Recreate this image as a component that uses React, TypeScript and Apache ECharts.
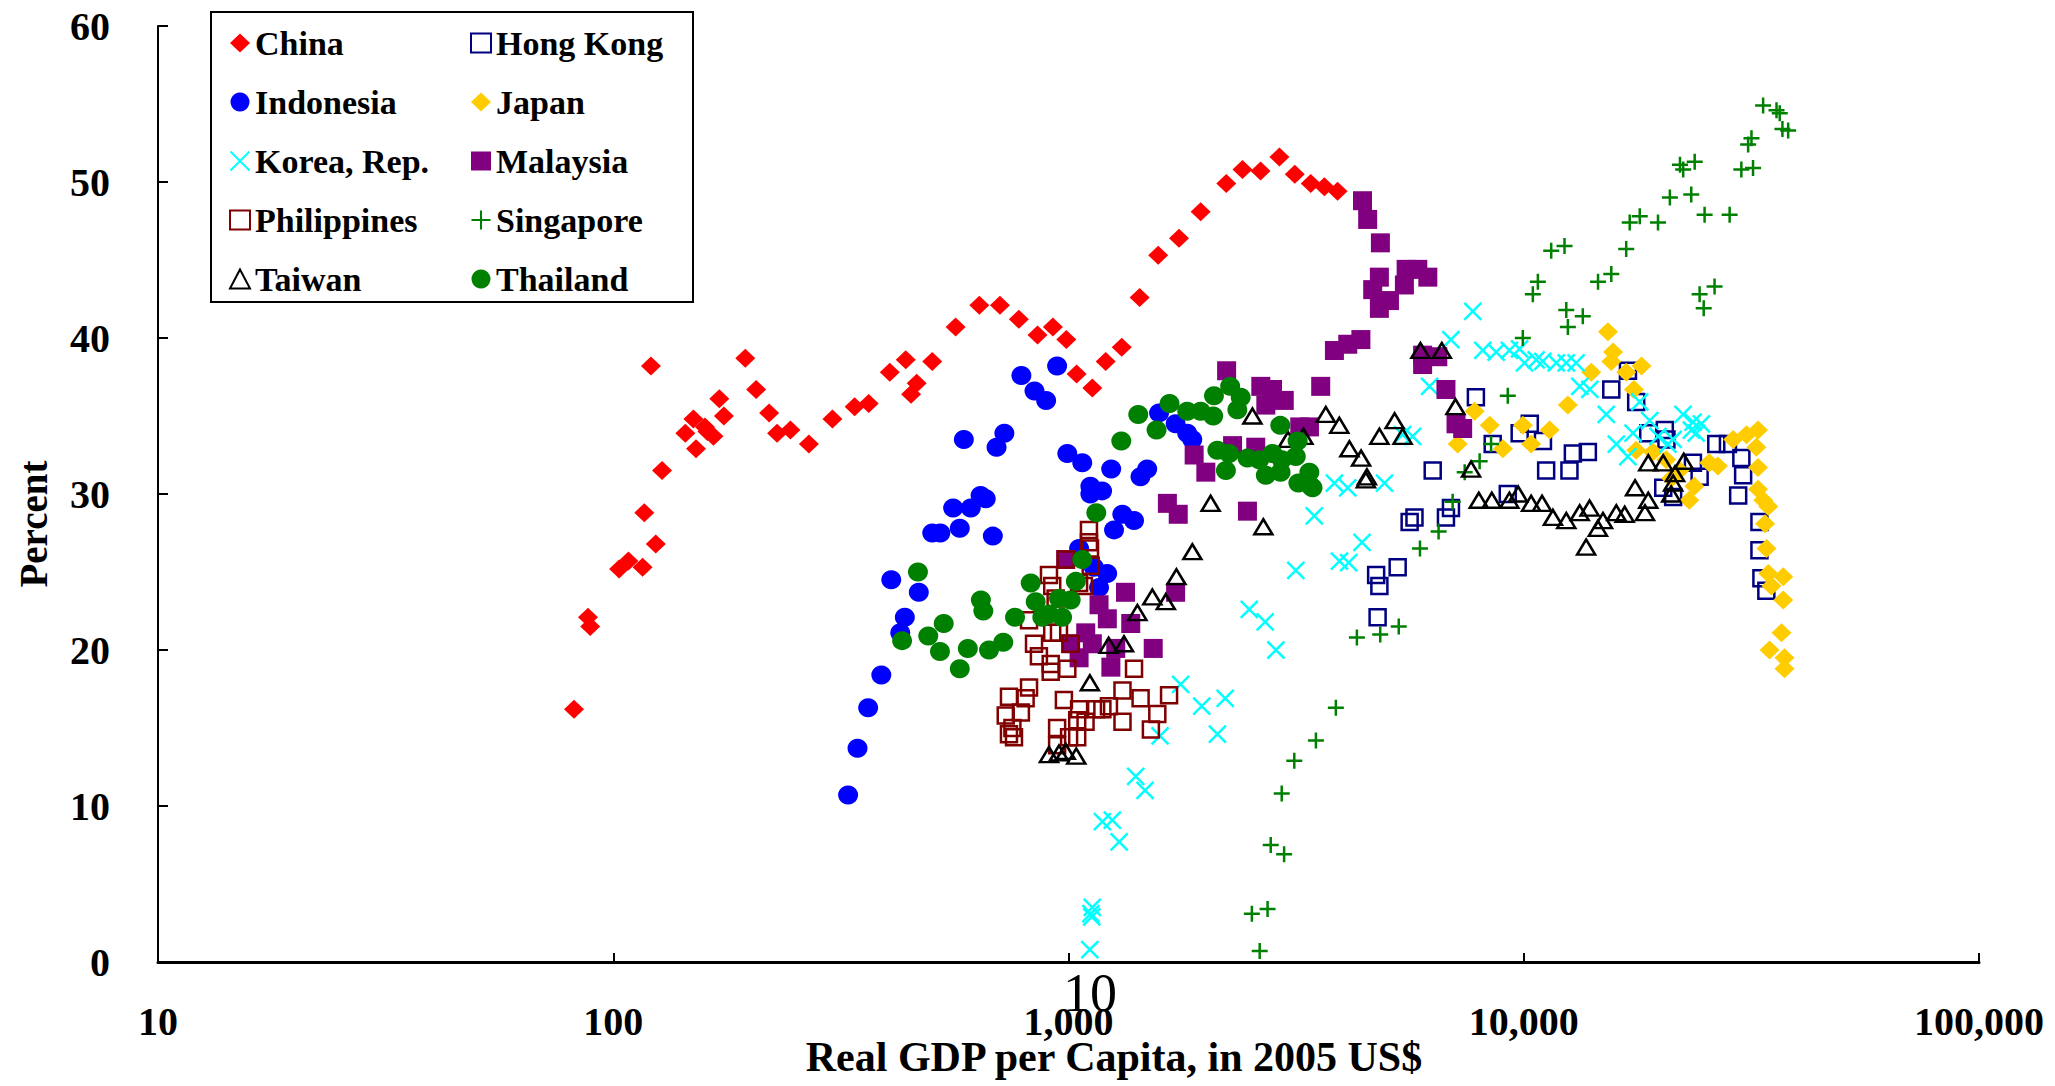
import React, { useEffect, useRef } from "react";
import * as echarts from "echarts";

// ---- Data (GDP per capita in 2005 US$, percent) ----
const china = [[82,16.2],[88,22.1],[89,21.5],[103,25.2],[108,25.7],[116,25.3],[124,26.8],[117,28.8],[128,31.5],[121,38.2],[144,33.9],[150,34.8],[152,32.9],[159,34.3],[161,34.0],[166,33.7],[171,36.1],[175,35.0],[195,38.7],[206,36.7],[220,35.2],[229,33.9],[245,34.1],[269,33.2],[303,34.8],[339,35.6],[364,35.8],[405,37.8],[439,38.6],[451,36.4],[464,37.1],[502,38.5],[565,40.7],[637,42.1],[707,42.1],[778,41.2],[855,40.2],[924,40.7],[989,39.9],[1042,37.7],[1128,36.8],[1207,38.5],[1309,39.4],[1433,42.6],[1574,45.3],[1749,46.4],[1951,48.1],[2221,49.9],[2411,50.8],[2642,50.7],[2906,51.6],[3141,50.5],[3405,49.9],[3648,49.7],[3900,49.4]];

const hongKong = [[4775,22.1],[4740,24.8],[4818,24.1],[5285,25.3],[5754,28.5],[5615,28.2],[6310,31.5],[6747,28.5],[6920,29.1],[7850,36.2],[9224,30.0],[8547,33.2],[9796,33.9],[10310,34.5],[11020,33.4],[11200,31.5],[12600,31.5],[12820,32.6],[13830,32.7],[15570,36.7],[16940,37.9],[17660,35.9],[18770,33.9],[20410,34.1],[20580,33.5],[20250,30.4],[21290,29.8],[24340,31.1],[23530,32.0],[26480,33.2],[28090,33.2],[30060,32.3],[30330,31.2],[29580,29.9],[32940,28.2],[32940,26.4],[33270,24.6],[34110,23.8]];

const indonesia = [[328,10.7],[344,13.7],[363,16.3],[388,18.4],[427,21.1],[437,22.1],[408,24.5],[469,23.7],[502,27.5],[523,27.5],[558,29.1],[577,27.8],[610,29.1],[641,29.9],[658,29.7],[682,27.3],[589,33.5],[695,33.0],[723,33.9],[788,37.6],[842,36.6],[893,36.0],[944,38.2],[994,32.6],[1072,32.0],[1117,30.5],[1185,30.2],[1117,30.0],[1241,31.6],[1439,31.1],[1489,31.6],[1313,28.7],[1393,28.3],[1259,27.7],[1055,26.5],[1137,25.3],[1216,24.9],[1167,24.0],[1581,35.2],[1719,34.5],[1823,33.9],[1870,33.5]];

const japan = [[7160,33.2],[7800,35.3],[8420,34.4],[9000,32.9],[9957,34.4],[10380,33.2],[11400,34.1],[12500,35.7],[14070,37.8],[15310,40.4],[15710,39.1],[15570,38.5],[16790,37.8],[18140,38.2],[17460,36.7],[17660,32.8],[19220,32.7],[20560,32.2],[22000,31.5],[21080,31.0],[23700,30.5],[23100,29.6],[25560,32.0],[26700,31.8],[28840,33.5],[30860,33.8],[32710,34.1],[32440,33.0],[32710,31.7],[32710,30.3],[33580,29.6],[34450,29.2],[33900,28.1],[34140,26.5],[34450,24.9],[37150,24.7],[35000,24.1],[37150,23.2],[36830,21.1],[34670,20.0],[37390,19.5],[37390,18.8]];

const korea = [[1114,0.8],[1128,3.5],[1120,3.1],[1125,2.9],[1292,7.7],[1187,9.0],[1248,9.1],[1405,11.9],[1473,11.0],[1589,14.5],[1763,17.8],[1962,16.4],[2209,16.9],[2124,14.6],[2495,22.6],[2704,21.8],[2855,20.0],[3157,25.1],[3467,28.6],[3937,25.7],[4125,25.6],[4413,26.9],[3838,30.7],[4106,30.4],[4944,30.7],[5418,33.8],[5700,33.7],[6210,36.9],[6917,39.9],[7727,41.7],[8130,39.2],[8699,39.1],[9301,39.2],[9789,39.3],[10040,38.4],[10650,38.6],[11010,38.5],[11790,38.4],[12400,38.4],[13030,38.4],[13280,36.9],[13970,36.7],[15180,35.1],[17980,35.9],[18910,34.7],[17380,33.9],[15970,33.2],[16930,32.4],[19720,33.7],[20740,33.2],[21290,33.5],[22380,35.1],[23550,34.6],[24560,34.5],[23350,34.1],[23930,33.9]];

const malaysia = [[986,25.8],[1011,20.4],[1055,19.5],[1091,21.1],[1128,20.4],[1167,22.9],[1217,22.0],[1239,18.9],[1270,20.1],[1334,23.7],[1370,21.7],[1535,20.1],[1719,23.7],[1649,29.4],[1742,28.7],[2472,28.9],[1888,32.5],[2003,31.4],[2293,33.1],[2578,33.0],[2225,37.9],[2645,36.9],[2806,36.7],[2978,36.0],[2713,35.7],[3221,34.3],[3383,34.3],[3581,36.9],[3838,39.2],[4106,39.6],[4388,39.9],[4424,48.8],[4541,47.6],[4843,46.1],[4818,43.9],[4658,43.1],[4818,41.9],[5070,42.4],[5516,44.4],[5852,44.4],[6156,43.9],[5468,43.4],[5996,38.9],[6475,38.8],[5996,38.3],[6747,36.7],[7100,34.5],[7342,34.2]];

const philippines = [[1109,27.7],[1109,26.9],[1115,26.5],[1119,25.4],[986,25.8],[906,24.8],[1055,24.3],[1081,24.1],[921,24.1],[937,23.3],[819,21.9],[921,21.1],[953,21.1],[840,20.4],[1011,20.4],[861,19.6],[914,19.1],[914,18.6],[994,18.8],[1393,18.8],[819,17.6],[740,17.0],[805,16.9],[786,16.0],[728,15.8],[753,15.0],[740,14.6],[759,14.4],[977,16.8],[1055,16.2],[1150,16.2],[1187,16.2],[1227,16.4],[1314,17.4],[1440,16.9],[1663,17.1],[1567,15.9],[1314,15.4],[1517,14.9],[944,15.0],[1045,15.5],[1090,15.4],[1003,14.4],[1045,14.4],[944,13.9]];

const singapore = [[2630,0.7],[2528,3.1],[2737,3.4],[2781,7.5],[2976,6.9],[2940,10.8],[3133,12.9],[3495,14.2],[3866,16.3],[4300,20.8],[4839,21.0],[5314,21.5],[5916,26.5],[6500,27.6],[6979,29.5],[7418,31.4],[8000,32.1],[8477,33.2],[9224,36.3],[9953,40.0],[10470,42.8],[10740,43.6],[11490,45.6],[12290,45.9],[12400,41.8],[13480,41.4],[12500,40.7],[14560,43.6],[15570,44.1],[16790,45.7],[17090,47.4],[17980,47.8],[19720,47.4],[20940,49.0],[22040,51.1],[22400,50.8],[23740,51.3],[23330,49.2],[24960,47.9],[28330,47.9],[24340,42.8],[26250,43.3],[24850,41.9],[30060,50.8],[31890,50.9],[31110,52.4],[31640,52.8],[33560,54.9],[35910,54.6],[36500,54.4],[38090,53.3],[37000,53.4]];

const taiwan = [[906,13.3],[953,13.4],[986,13.5],[1040,13.2],[1114,17.9],[1225,20.3],[1324,20.4],[1417,22.4],[1528,23.4],[1636,23.1],[1726,24.7],[1871,26.3],[2052,29.4],[2679,27.9],[2535,35.0],[3035,33.5],[3281,33.7],[3674,35.1],[3934,34.4],[4140,32.9],[4392,32.3],[4523,31.1],[4818,33.7],[5204,34.7],[5418,33.7],[4500,30.9],[5930,39.2],[6607,39.2],[7079,35.6],[7660,31.6],[7966,29.6],[8507,29.6],[9299,29.6],[9720,30.0],[10380,29.4],[10970,29.4],[11590,28.5],[12400,28.3],[13270,28.8],[13950,29.1],[14930,28.3],[15970,28.8],[16660,28.7],[14550,27.8],[13710,26.6],[17560,30.4],[18770,29.6],[18460,28.8],[18770,32.0],[20240,32.0],[22460,32.1],[21290,30.7],[21080,30.0],[21500,31.3]];

const thailand = [[431,20.6],[467,25.0],[492,20.9],[532,21.7],[522,19.9],[577,18.8],[601,20.1],[642,23.2],[650,22.5],[669,20.0],[719,20.5],[763,22.1],[826,24.3],[847,23.1],[876,22.1],[906,22.3],[968,22.1],[953,23.3],[1011,23.2],[1038,24.4],[1072,25.8],[1151,28.8],[1306,33.4],[1423,35.1],[1561,34.1],[1667,35.8],[1823,35.3],[1951,35.3],[2079,35.0],[2087,36.3],[2265,36.9],[2389,36.2],[2349,35.4],[2919,34.4],[2123,32.8],[2253,32.6],[2217,31.5],[2472,32.3],[2624,32.2],[2806,32.6],[2941,32.2],[2713,31.2],[2923,31.4],[3186,33.4],[3157,32.4],[3381,31.4],[3408,30.5],[3199,30.7],[3436,30.4]];

const LEGEND_COL1 = ["China", "Indonesia", "Korea, Rep.", "Philippines", "Taiwan"];
const LEGEND_COL2 = ["Hong Kong", "Japan", "Malaysia", "Singapore", "Thailand"];
const X_MIN = 10;
const X_MAX = 100000;
const Y_MIN = 0;
const Y_MAX = 60;
const Y_STEP = 10;
const X_TITLE = "Real GDP per Capita, in 2005 US$";
const Y_TITLE = "Percent";
const STRAY_LABEL = "10";

const FONT = "'Liberation Serif', 'Times New Roman', serif";
const X_PATH = "path://M0,0L20,20M20,0L0,20";
const PLUS_PATH = "path://M10,0L10,20M0,10L20,10";

type Spec = {
  name: string;
  data: number[][];
  symbol: string;
  size: number | number[];
  color: string;
  kind: "fill" | "hollow" | "stroke";
};

const SPECS: Spec[] = [
  { name: "China", data: china, symbol: "diamond", size: [20, 19], color: "#FF0000", kind: "fill" },
  { name: "Hong Kong", data: hongKong, symbol: "rect", size: 16, color: "#000080", kind: "hollow" },
  { name: "Indonesia", data: indonesia, symbol: "circle", size: [20, 19], color: "#0000FF", kind: "fill" },
  { name: "Japan", data: japan, symbol: "diamond", size: [20, 19], color: "#FFCC00", kind: "fill" },
  { name: "Korea, Rep.", data: korea, symbol: X_PATH, size: 17, color: "#00FFFF", kind: "stroke" },
  { name: "Malaysia", data: malaysia, symbol: "rect", size: 19, color: "#800080", kind: "fill" },
  { name: "Philippines", data: philippines, symbol: "rect", size: 16, color: "#800000", kind: "hollow" },
  { name: "Singapore", data: singapore, symbol: PLUS_PATH, size: 16, color: "#008000", kind: "stroke" },
  { name: "Taiwan", data: taiwan, symbol: "triangle", size: [18, 15], color: "#000000", kind: "hollow" },
  { name: "Thailand", data: thailand, symbol: "circle", size: [20, 19], color: "#008000", kind: "fill" },
];

function fmtX(v: number): string {
  return Math.round(v).toLocaleString("en-US");
}

export default function App() {
  const ref = useRef<HTMLDivElement>(null);
  useEffect(() => {
    if (!ref.current) return;
    const chart = echarts.init(ref.current, undefined, { renderer: "svg" });
    const series = SPECS.map((s) => ({
      type: "scatter",
      name: s.name,
      data: s.data,
      symbol: s.symbol,
      symbolSize: s.size,
      itemStyle:
        s.kind === "fill"
          ? { color: s.color, opacity: 1 }
          : { color: "rgba(0,0,0,0)", borderColor: s.color, borderWidth: 2.5, opacity: 1 },
      emphasis: { disabled: true },
    }));
    const legendBase = {
      orient: "vertical",
      top: 23,
      padding: 0,
      itemWidth: 20,
      itemHeight: 19,
      itemGap: 19,
      selectedMode: false,
      textStyle: {
        fontFamily: FONT,
        fontWeight: "bold",
        fontSize: 34,
        color: "#000",
        lineHeight: 40,
      },
    };
    chart.setOption({
      animation: false,
      backgroundColor: "#fff",
      grid: { left: 158, right: 76, top: 26, bottom: 124, containLabel: false },
      xAxis: {
        type: "log",
        logBase: 10,
        min: X_MIN,
        max: X_MAX,
        axisLine: { show: true, lineStyle: { color: "#000", width: 3 } },
        axisTick: { show: true, inside: true, length: 9, lineStyle: { color: "#000", width: 2 } },
        splitLine: { show: false },
        minorTick: { show: false },
        axisLabel: {
          formatter: fmtX,
          fontFamily: FONT,
          fontWeight: "bold",
          fontSize: 40,
          color: "#000",
          margin: 39,
        },
      },
      yAxis: {
        type: "value",
        min: Y_MIN,
        max: Y_MAX,
        interval: Y_STEP,
        axisLine: { show: true, lineStyle: { color: "#000", width: 2 } },
        axisTick: { show: true, inside: true, length: 10, lineStyle: { color: "#000", width: 2 } },
        splitLine: { show: false },
        axisLabel: {
          fontFamily: FONT,
          fontWeight: "bold",
          fontSize: 40,
          color: "#000",
          margin: 48,
        },
      },
      legend: [
        { ...legendBase, left: 229, data: LEGEND_COL1 },
        { ...legendBase, left: 470, data: LEGEND_COL2 },
      ],
      graphic: [
        {
          type: "rect",
          shape: { x: 211, y: 12, width: 482, height: 290 },
          style: { fill: "none", stroke: "#000", lineWidth: 2 },
          silent: true,
          z: 50,
        },
        {
          type: "text",
          x: 1114,
          y: 1057,
          style: {
            text: X_TITLE,
            fontFamily: FONT,
            fontWeight: "bold",
            fontSize: 42,
            fill: "#000",
            textAlign: "center",
            textVerticalAlign: "middle",
          },
          silent: true,
        },
        {
          type: "text",
          x: 33,
          y: 524,
          rotation: Math.PI / 2,
          style: {
            text: Y_TITLE,
            fontFamily: FONT,
            fontWeight: "bold",
            fontSize: 39,
            fill: "#000",
            textAlign: "center",
            textVerticalAlign: "middle",
          },
          silent: true,
        },
        {
          type: "text",
          x: 1090,
          y: 993,
          style: {
            text: STRAY_LABEL,
            fontFamily: FONT,
            fontWeight: "normal",
            fontSize: 54,
            fill: "#000",
            textAlign: "center",
            textVerticalAlign: "middle",
          },
          silent: true,
        },
      ],
      series,
    });
    return () => chart.dispose();
  }, []);
  return (
    <div
      ref={ref}
      style={{ position: "fixed", left: 0, top: 0, width: 2055, height: 1086, background: "#fff" }}
    />
  );
}
